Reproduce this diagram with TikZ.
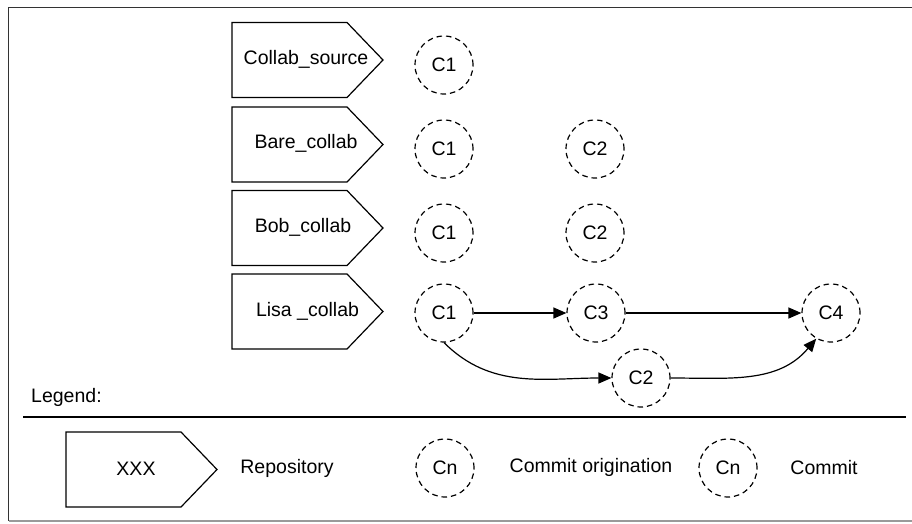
\documentclass[tikz,border=0pt]{standalone}
\usepackage{fontspec}
\setmainfont{Liberation Sans}
\usetikzlibrary{arrows.meta}
\definecolor{framedark}{HTML}{333333}
\definecolor{framegray}{HTML}{9A9A9A}
\tikzset{
  lbl/.style={font=\fontsize{19.5}{22}\selectfont, inner sep=0pt},
  commit/.style={circle, draw, dashed, dash pattern=on 5.5pt off 4pt, line width=1.2pt, minimum size=58pt, inner sep=0pt, font=\fontsize{19.5}{22}\selectfont},
  repobox/.style={line width=1.2pt, line join=miter},
  conn/.style={line width=1.2pt, -{Triangle[length=13pt,width=11pt]}},
}
\newcommand{\repoShape}[1]{%
  \draw[repobox] ([shift={(-75.5,-37.5)}]#1.center) -- ([shift={(39.5,-37.5)}]#1.center)
    -- ([shift={(75.5,0)}]#1.center) -- ([shift={(39.5,37.5)}]#1.center)
    -- ([shift={(-75.5,37.5)}]#1.center) -- cycle;}
\begin{document}
\begin{tikzpicture}[x=1pt,y=-1pt]
\useasboundingbox (0,0) rectangle (912,523);
% frame
\draw[framedark, line width=1.6pt] (912,7.5) -- (8.5,7.5) -- (8.5,521);
\draw[framegray, line width=1.6pt] (8.5,521) -- (912,521);

% repositories
\coordinate (p1) at (307.5,60);
\coordinate (p2) at (307.5,144.5);
\coordinate (p3) at (307.5,228);
\coordinate (p4) at (307.5,311.5);
\repoShape{p1}\repoShape{p2}\repoShape{p3}\repoShape{p4}
\node[lbl] (r1) at (306,59) {Collab\_source};
\node[lbl] (r2) at (306,143) {Bare\_collab};
\node[lbl] (r3) at (303,227) {Bob\_collab};
\node[lbl] (r4) at (307.5,311) {Lisa \_collab};

% commits
\node[commit] (a1) at (444,65) {C1};
\node[commit] (b1) at (444,149) {C1};
\node[commit] (b2) at (595,149) {C2};
\node[commit] (c1) at (444,233) {C1};
\node[commit] (c2) at (595,233) {C2};
\node[commit] (d1) at (444,313) {C1};
\node[commit] (d3) at (596,313) {C3};
\node[commit] (d4) at (831,313) {C4};
\node[commit] (d2) at (641,378) {C2};

\draw[conn] (d1) -- (d3);
\draw[conn] (d3) -- (d4);
\draw[conn] (d1.south) to[out=-45,in=180] (d2.west);
\draw[conn] (d2.east) to[out=0,in=230] (d4.240);

% legend
\node[lbl, anchor=west] (leg) at (31,397) {Legend:};
\coordinate (ls) at (23,417);
\coordinate (le) at (906,417);
\draw[line width=1.3pt] (ls) -- (le);
\coordinate (p5) at (141.5,469.5);
\repoShape{p5}
\node[lbl] (x1) at (136,469) {XXX};
\node[lbl] (x2) at (287,468) {Repository};
\node[commit] (x3) at (445,468) {Cn};
\node[lbl] (x4) at (591,467) {Commit origination};
\node[commit] (x5) at (728,468) {Cn};
\node[lbl] (x6) at (824,468) {Commit};
\end{tikzpicture}
\end{document}
